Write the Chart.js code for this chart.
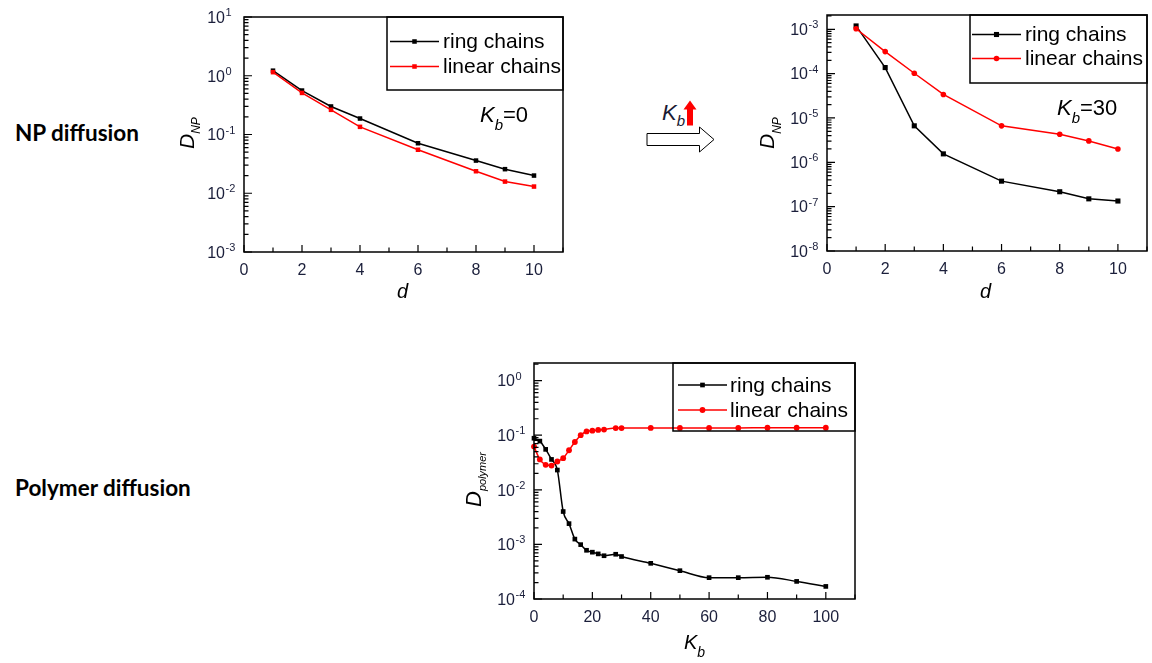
<!DOCTYPE html>
<html>
<head>
<meta charset="utf-8">
<script src="https://cdn.jsdelivr.net/npm/chart.js@4.4.1/dist/chart.umd.min.js"></script>
<style>
  body { margin: 0; background: #fff; width: 1152px; height: 663px; overflow: hidden; position: relative; }
  canvas { position: absolute; }
  svg { position: absolute; left: 0; top: 0; }
  .row { position: absolute; left: 15px; font: bold 22.5px Lato, sans-serif; line-height: 22px; color: #000; white-space: nowrap; }
</style>
</head>
<body>
<div class="row" style="top:122px">NP diffusion</div>
<div class="row" style="top:477px">Polymer diffusion</div>
<svg width="1152" height="663">
  <polygon points="647,133.5 699.5,133.5 699.5,127 714,139.5 699.5,152 699.5,145.5 647,145.5" fill="#fff" stroke="#000" stroke-width="1"/>
  <text x="662" y="120" font-family="Liberation Sans, Arial" font-style="italic" font-size="22" fill="#1a1a33">K<tspan font-size="15" dy="6">b</tspan></text>
  <polygon points="690,100.5 696.5,109.5 693,109.5 693,125.5 687,125.5 687,109.5 683.5,109.5" fill="#ff0000"/>
</svg>
<canvas id="c1" width="410" height="320" style="left:170px;top:0px;width:410px;height:320px"></canvas>
<canvas id="c2" width="392" height="320" style="left:760px;top:0px;width:392px;height:320px"></canvas>
<canvas id="c3" width="410" height="313" style="left:455px;top:350px;width:410px;height:313px"></canvas>
<script>
// NP diffusion, Kb = 0
const dVals = [1, 2, 3, 4, 6, 8, 9, 10];
const ringKb0 = [1.22, 0.56, 0.30, 0.187, 0.071, 0.036, 0.0257, 0.020];
const linearKb0 = [1.15, 0.51, 0.263, 0.135, 0.055, 0.0237, 0.0158, 0.013];

// NP diffusion, Kb = 30
const ringKb30 = [1.19e-3, 1.37e-4, 6.65e-6, 1.55e-6, 3.76e-7, 2.17e-7, 1.5e-7, 1.34e-7];
const linearKb30 = [1.03e-3, 3.14e-4, 1.02e-4, 3.39e-5, 6.65e-6, 4.3e-6, 3.04e-6, 2.0e-6];

// polymer diffusion vs Kb
const kbVals = [0, 2, 4, 6, 8, 10, 12, 14, 16, 18, 20, 22, 24, 28, 30, 40, 50, 60, 70, 80, 90, 100];
const ringPoly = [0.088, 0.078, 0.055, 0.036, 0.023, 0.0040, 0.0024, 0.00125, 0.00099, 0.00078, 0.00072,
  0.00067, 0.00062, 0.00066, 0.0006, 0.00045, 0.00033, 0.000246, 0.000246, 0.00025, 0.00021, 0.00017];
const linearPoly = [0.062, 0.036, 0.0287, 0.0278, 0.033, 0.038, 0.053, 0.075, 0.10, 0.117, 0.121,
  0.125, 0.127, 0.135, 0.135, 0.136, 0.136, 0.136, 0.136, 0.137, 0.137, 0.137];

const seriesNames = ["ring chains", "linear chains"];

const FONT = '"Liberation Sans", Arial, sans-serif';
const TICK_COLOR = "#1b1f3b";

function pairs(xs, ys) {
  return xs.map((v, i) => ({ x: v, y: ys[i] }));
}

function rich(ctx, x, y, rot, parts) {
  ctx.save();
  ctx.translate(x, y);
  ctx.rotate(rot);
  ctx.textAlign = "left";
  ctx.textBaseline = "alphabetic";
  let cx = 0;
  for (const p of parts) {
    ctx.font = p.f;
    ctx.fillStyle = p.c || "#000";
    ctx.fillText(p.t, cx, p.dy || 0);
    cx += ctx.measureText(p.t).width;
  }
  ctx.restore();
}

// Origin-style frame, inward ticks, 10^n labels, boxed legend, annotations
const originPlugin = {
  id: "origin",
  afterDraw(chart, args, o) {
    const ctx = chart.ctx;
    const a = chart.chartArea;
    const xs = chart.scales.x, ys = chart.scales.y;
    const ox = o.ox, oy = o.oy;
    ctx.save();

    ctx.strokeStyle = "#000";
    ctx.lineWidth = 1.5;
    ctx.strokeRect(a.left, a.top, a.right - a.left, a.bottom - a.top);

    ctx.lineWidth = 1.2;
    ctx.beginPath();
    const e0 = Math.round(Math.log10(ys.min));
    const e1 = Math.floor(Math.log10(ys.max) + 1e-9);
    for (let e = e0; e <= e1; e++) {
      for (let m = 1; m <= 9; m++) {
        const v = m * Math.pow(10, e);
        if (v > ys.max * 1.0001) break;
        const py = ys.getPixelForValue(v);
        ctx.moveTo(a.left, py);
        ctx.lineTo(a.left + (m === 1 ? 8 : 4.5), py);
      }
    }
    for (let v = xs.min; v <= xs.max + 1e-9; v += o.xMinor) {
      const px = xs.getPixelForValue(v);
      const r = v / o.xMajor;
      const major = Math.abs(r - Math.round(r)) < 1e-6;
      ctx.moveTo(px, a.bottom);
      ctx.lineTo(px, a.bottom - (major ? 7 : 4.5));
    }
    ctx.stroke();

    ctx.fillStyle = TICK_COLOR;
    for (let e = e0; e <= e1; e++) {
      const py = ys.getPixelForValue(Math.pow(10, e));
      const xr = a.left - 19;
      ctx.font = "16px " + FONT;
      ctx.textAlign = "right";
      ctx.textBaseline = "alphabetic";
      ctx.fillText("10", xr, py + 5.8);
      ctx.font = "11px " + FONT;
      ctx.textAlign = "left";
      ctx.fillText(String(e), xr + 0.5, py - 1);
    }

    const L = o.legend;
    ctx.strokeStyle = "#000";
    ctx.lineWidth = 1.5;
    ctx.strokeRect(L.x1 - ox, L.y1 - oy, L.x2 - L.x1, L.y2 - L.y1);
    chart.data.datasets.forEach((ds, i) => {
      const y = L.rows[i] - oy;
      ctx.strokeStyle = ds.borderColor;
      ctx.lineWidth = ds.borderWidth;
      ctx.beginPath();
      ctx.moveTo(L.lx1 - ox, y);
      ctx.lineTo(L.lx2 - ox, y);
      ctx.stroke();
      ctx.fillStyle = ds.pointBackgroundColor;
      Chart.helpers.drawPoint(ctx, { pointStyle: ds.pointStyle, radius: ds.pointRadius, rotation: 0, borderWidth: 0 },
        (L.lx1 + L.lx2) / 2 - ox, y);
      ctx.fillStyle = "#000";
      ctx.font = "21px " + FONT;
      ctx.textAlign = "left";
      ctx.textBaseline = "middle";
      ctx.fillText(ds.label, L.tx - ox, y + 1);
    });

    for (const t of o.texts) rich(ctx, t.x - ox, t.y - oy, t.rot || 0, t.parts);
    ctx.restore();
  }
};

function series(label, xs, ys, color, style, radius, order, smooth) {
  return {
    label: label,
    data: pairs(xs, ys),
    borderColor: color,
    backgroundColor: color,
    pointBackgroundColor: color,
    pointBorderWidth: 0,
    borderWidth: 1.5,
    pointStyle: style,
    pointRadius: radius,
    order: order,
    tension: 0,
    cubicInterpolationMode: smooth ? "monotone" : "default",
    clip: false
  };
}

function makeChart(id, datasets, sc, origin) {
  return new Chart(document.getElementById(id), {
    type: "line",
    data: { datasets: datasets },
    options: {
      responsive: false,
      animation: false,
      events: [],
      layout: { padding: sc.pad },
      plugins: { legend: { display: false }, tooltip: { enabled: false }, origin: origin },
      scales: {
        x: {
          type: "linear",
          min: 0,
          max: sc.xMax,
          bounds: "data",
          grid: { display: false, drawTicks: false },
          border: { display: false },
          ticks: {
            stepSize: sc.xStep,
            padding: 9,
            maxRotation: 0,
            autoSkip: false,
            color: TICK_COLOR,
            font: { family: FONT, size: 16 }
          },
          afterBuildTicks: (s) => {
            s.ticks = s.ticks.filter((t) => Math.abs(t.value % sc.xStep) < 1e-9 && t.value <= sc.xMax - sc.xStep / 2);
          },
          afterFit: (s) => { s.height = sc.xH; }
        },
        y: {
          type: "logarithmic",
          min: sc.yMin,
          max: sc.yMax,
          bounds: "data",
          grid: { display: false },
          border: { display: false },
          ticks: { display: false },
          afterFit: (s) => { s.width = sc.yW; }
        }
      }
    },
    plugins: [originPlugin]
  });
}

const italic = (px) => "italic " + px + "px " + FONT;
const plain = (px) => px + "px " + FONT;

makeChart("c1", [
  series(seriesNames[0], dVals, ringKb0, "#000000", "rect", 3.2, 1, false),
  series(seriesNames[1], dVals, linearKb0, "#ff0000", "rect", 3.2, 0, false)
], { pad: { top: 17, right: 17, left: 0, bottom: 0 }, xMax: 11, xStep: 2, xH: 68, yW: 74, yMin: 1e-3, yMax: 10 }, {
  ox: 170, oy: 0, xMinor: 1, xMajor: 2,
  legend: { x1: 387, y1: 17, x2: 563, y2: 90, rows: [41.5, 66.5], lx1: 390, lx2: 439, tx: 443 },
  texts: [
    { x: 194, y: 149, rot: -Math.PI / 2, parts: [{ t: "D", f: italic(21) }, { t: "NP", f: italic(12), dy: 6 }] },
    { x: 397, y: 298, parts: [{ t: "d", f: italic(20) }] },
    { x: 480, y: 122, parts: [{ t: "K", f: italic(22) }, { t: "b", f: italic(15), dy: 8 }, { t: "=0", f: plain(22) }] }
  ]
});

makeChart("c2", [
  series(seriesNames[0], dVals, ringKb30, "#000000", "rect", 3.6, 1, false),
  series(seriesNames[1], dVals, linearKb30, "#ff0000", "circle", 2.8, 0, false)
], { pad: { top: 15, right: 5, left: 0, bottom: 0 }, xMax: 11, xStep: 2, xH: 69, yW: 67, yMin: 1e-8, yMax: 2.1e-3 }, {
  ox: 760, oy: 0, xMinor: 1, xMajor: 2,
  legend: { x1: 970, y1: 15, x2: 1147, y2: 83, rows: [34.5, 58.5], lx1: 972, lx2: 1021, tx: 1025 },
  texts: [
    { x: 774, y: 149, rot: -Math.PI / 2, parts: [{ t: "D", f: italic(21) }, { t: "NP", f: italic(12), dy: 7 }] },
    { x: 980, y: 298, parts: [{ t: "d", f: italic(20) }] },
    { x: 1057, y: 115, parts: [{ t: "K", f: italic(22) }, { t: "b", f: italic(15), dy: 8 }, { t: "=30", f: plain(22) }] }
  ]
});

makeChart("c3", [
  series(seriesNames[0], kbVals, ringPoly, "#000000", "rect", 3.3, 1, true),
  series(seriesNames[1], kbVals, linearPoly, "#ff0000", "circle", 2.9, 0, true)
], { pad: { top: 13, right: 10, left: 0, bottom: 0 }, xMax: 110, xStep: 20, xH: 64, yW: 79, yMin: 1e-4, yMax: 2.1 }, {
  ox: 455, oy: 350, xMinor: 10, xMajor: 20,
  legend: { x1: 673, y1: 363, x2: 855, y2: 431, rows: [385, 410], lx1: 678, lx2: 727, tx: 730 },
  texts: [
    { x: 481, y: 507, rot: -Math.PI / 2, parts: [{ t: "D", f: italic(22) }, { t: "polymer", f: italic(11), dy: 5 }] },
    { x: 684, y: 649, parts: [{ t: "K", f: italic(20) }, { t: "b", f: italic(14), dy: 8 }] }
  ]
});
</script>
</body>
</html>
